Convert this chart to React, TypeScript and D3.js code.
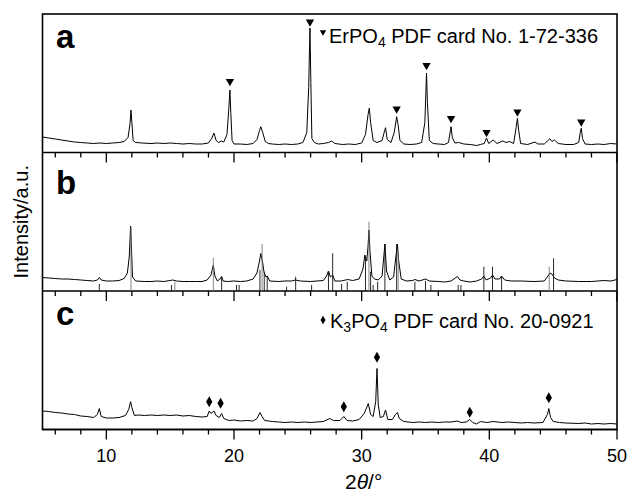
import React from "react";
import * as d3 from "d3";

// XRD patterns, [2theta, intensity] (a.u.)
const patternA: [number, number][] = [
  [5.0, 15.5], [5.5, 14.5], [6.0, 13.5], [6.5, 12.5], [7.0, 11.5], [7.5, 10.5], [8.0, 10], [8.5, 9.5],
  [9.0, 9], [9.5, 9.5], [10.0, 9], [10.5, 9.5], [11.0, 10], [11.4, 11], [11.7, 15], [11.85, 28],
  [11.93, 42.5], [12.0, 30], [12.1, 12], [12.3, 10], [12.8, 9.5], [13.5, 9], [14.0, 9.5], [14.5, 9],
  [15.0, 9.5], [15.5, 9], [16.0, 8.5], [16.5, 9], [17.0, 8.5], [17.5, 8.5], [18.0, 9.5], [18.25, 14],
  [18.43, 19.5], [18.6, 12], [18.8, 10], [19.0, 11.5], [19.2, 10.5], [19.45, 18], [19.6, 45], [19.68, 62.5],
  [19.75, 40], [19.85, 12], [20.0, 8.5], [20.5, 8.5], [21.0, 8], [21.5, 9], [21.8, 13], [22.0, 22],
  [22.1, 25.8], [22.25, 20], [22.45, 11], [22.7, 9], [23.0, 8.5], [23.5, 8], [24.0, 8.5], [24.5, 8],
  [25.0, 8.5], [25.4, 10], [25.7, 20], [25.85, 65], [25.95, 124.5], [26.02, 70], [26.1, 14], [26.3, 10],
  [26.6, 8.5], [27.0, 9], [27.4, 10], [27.65, 11.5], [27.9, 9], [28.5, 8], [29.0, 8.5], [29.5, 8],
  [30.0, 9.5], [30.3, 18], [30.5, 38], [30.6, 44.5], [30.7, 30], [30.9, 12], [31.2, 10], [31.6, 12],
  [31.8, 22], [31.87, 24.8], [32.0, 13], [32.3, 10], [32.55, 20], [32.74, 35.8], [32.85, 28], [33.0, 12],
  [33.3, 8.5], [33.8, 8], [34.3, 8.5], [34.7, 10], [34.95, 30], [35.08, 79.5], [35.15, 50], [35.3, 12],
  [35.6, 9], [36.0, 8.5], [36.5, 8], [36.8, 10], [36.95, 22], [37.0, 25.8], [37.1, 15], [37.3, 9.5],
  [37.6, 10], [38.0, 8.5], [38.5, 8], [39.0, 7], [39.3, 8], [39.6, 9], [39.78, 14.5], [39.95, 9],
  [40.3, 12.5], [40.6, 9], [41.06, 11.5], [41.3, 10], [41.6, 11], [41.9, 9], [42.1, 25], [42.2, 34.2],
  [42.3, 22], [42.45, 9], [43.0, 8], [43.57, 10.5], [43.8, 8.5], [44.3, 8.5], [44.74, 13.8], [44.9, 11],
  [45.1, 12.5], [45.4, 9], [46.0, 8], [46.6, 8], [47.0, 10], [47.12, 20], [47.2, 24.2], [47.3, 14],
  [47.5, 8.5], [48.0, 8], [48.5, 8.5], [49.0, 8], [49.5, 9], [50.0, 8.5],
];

const patternB: [number, number][] = [
  [5.0, 13.5], [5.5, 13], [6.0, 12.5], [6.5, 12], [7.0, 12], [7.5, 11.5], [8.0, 11], [8.5, 10.5],
  [9.0, 10], [9.3, 11], [9.45, 13.5], [9.6, 11], [10.0, 10], [10.5, 10], [11.0, 10.5], [11.4, 12.5],
  [11.65, 18], [11.8, 35], [11.9, 65], [11.95, 50], [12.05, 14], [12.3, 10], [13.0, 9.5], [13.5, 9.5],
  [14.0, 10], [14.5, 9.5], [15.0, 10.5], [15.2, 11], [15.5, 10], [16.0, 9.5], [16.5, 9.5], [17.0, 9.5],
  [17.5, 9.5], [17.9, 11], [18.2, 16], [18.38, 26], [18.5, 15], [18.7, 10], [18.9, 12], [19.03, 14.5],
  [19.15, 10], [19.5, 9.5], [20.0, 10], [20.5, 9.5], [21.0, 10], [21.5, 12], [21.8, 18], [22.0, 30],
  [22.1, 37.5], [22.25, 28], [22.35, 19], [22.5, 14], [22.6, 15], [22.8, 10], [23.5, 9.5], [24.0, 10],
  [24.5, 10], [24.8, 11], [25.2, 10], [26.0, 9.5], [26.5, 10], [27.0, 10.5], [27.25, 15], [27.4, 20],
  [27.55, 14], [27.73, 16], [27.9, 10], [28.4, 10], [28.9, 11.5], [29.3, 10.5], [29.8, 12], [30.1, 22],
  [30.25, 36], [30.4, 30], [30.5, 45], [30.57, 61], [30.65, 40], [30.8, 15], [31.0, 12], [31.3, 11],
  [31.6, 15], [31.82, 47], [31.95, 20], [32.2, 11], [32.5, 14], [32.74, 41], [32.8, 47], [32.9, 30],
  [33.1, 12], [33.5, 10], [34.0, 10.5], [34.17, 11.5], [34.5, 10], [35.0, 12], [35.3, 10], [36.0, 9.5],
  [36.5, 9], [37.0, 10], [37.5, 14.5], [37.7, 11], [38.0, 10], [38.5, 9], [39.0, 10], [39.4, 12],
  [39.57, 15], [39.75, 11], [40.1, 13], [40.25, 16], [40.45, 12], [40.8, 12], [40.96, 15], [41.2, 11],
  [41.7, 10], [42.5, 10], [43.5, 9.5], [44.3, 10], [44.6, 15], [44.74, 18], [44.9, 17], [45.1, 13],
  [45.4, 11], [46.0, 10], [47.0, 9.5], [48.0, 9.5], [48.5, 10], [49.0, 10.5], [49.5, 10], [50.0, 11.5],
];

const patternC: [number, number][] = [
  [5.0, 18.5], [5.5, 18], [6.0, 17], [6.5, 16.5], [7.0, 15.5], [7.5, 15], [8.0, 13.5], [8.5, 13],
  [9.0, 12], [9.3, 15], [9.45, 21], [9.6, 13], [10.0, 11.5], [10.5, 11.5], [11.0, 12], [11.5, 14],
  [11.75, 20], [11.9, 27.8], [12.0, 22], [12.2, 14], [12.5, 14.5], [13.0, 14], [13.5, 14.5], [14.0, 14],
  [14.5, 14.5], [15.0, 14], [15.5, 14.5], [16.0, 13.5], [16.5, 14], [17.0, 13], [17.5, 12.5], [17.9, 13],
  [18.06, 18.5], [18.2, 16], [18.43, 18.5], [18.6, 14], [18.85, 12], [19.03, 16], [19.2, 11], [19.6, 9],
  [20.0, 9.5], [20.5, 8.5], [21.0, 9], [21.5, 8.5], [21.8, 11], [22.03, 17], [22.2, 13], [22.4, 9],
  [23.0, 8], [23.5, 7.5], [24.0, 7], [24.5, 7.5], [25.0, 7], [25.5, 7.5], [26.0, 7], [26.5, 7.5],
  [27.0, 8], [27.5, 11], [27.8, 9], [28.3, 9], [28.6, 13], [28.85, 9], [29.3, 8.5], [29.8, 10],
  [30.2, 16], [30.52, 26], [30.7, 15], [30.9, 13], [31.1, 28], [31.2, 61], [31.3, 25], [31.45, 12],
  [31.7, 13], [31.87, 19.5], [32.05, 10], [32.4, 10], [32.65, 15], [32.8, 17], [32.95, 11], [33.3, 8],
  [34.0, 7], [34.5, 7.5], [35.0, 7], [35.5, 7.5], [36.0, 7], [36.5, 7.5], [37.0, 7.5], [37.5, 8.5],
  [37.8, 7], [38.2, 7.5], [38.47, 10], [38.7, 7], [39.0, 5.5], [39.3, 8], [39.8, 7], [40.3, 8],
  [41.0, 7], [41.5, 7.5], [42.0, 7], [42.5, 6.5], [43.0, 7], [43.5, 6.5], [44.2, 7], [44.55, 15],
  [44.66, 21], [44.8, 12], [45.0, 8], [45.5, 7], [46.0, 6.5], [47.0, 6], [47.5, 6.5], [48.0, 5.5],
  [48.5, 6], [49.0, 5.5], [49.5, 6], [50.0, 5.5],
];

// reference card sticks in panel b, [2theta, height]
const sticksDark: [number, number][] = [
  [9.45, 7], [15.1, 6], [19.03, 14.3], [20.2, 6], [20.4, 6], [22.03, 21], [22.37, 19.3], [22.6, 15],
  [24.12, 4.3], [24.83, 14.3], [26.08, 6], [27.4, 20], [27.73, 37.7], [28.43, 7], [28.87, 9.3],
  [30.3, 34.3], [30.7, 19.3], [30.9, 6], [31.25, 9.3], [31.82, 47], [32.74, 47], [34.17, 9.3],
  [35.0, 10], [35.42, 6], [37.56, 6], [37.77, 6], [39.57, 24.3], [40.25, 24.3], [40.96, 14.3], [45.03, 32.7],
];
const sticksLight: [number, number][] = [
  [11.93, 64], [15.37, 9.3], [18.38, 33], [22.2, 47], [30.57, 69.3], [32.86, 34.3], [44.69, 24.3],
];

// ErPO4 markers (panel a) and K3PO4 markers (panel c), [2theta, level]
const erpo4Marks: [number, number][] = [
  [19.68, 71], [25.95, 130.5], [32.74, 43.5], [35.08, 87], [37.0, 34], [39.78, 20], [42.2, 40.5], [47.2, 30.5],
];
const k3po4Marks: [number, number][] = [
  [18.06, 27.8], [18.95, 26.2], [28.6, 22.8], [31.2, 72.2], [38.47, 17.2], [44.66, 31.8],
];

const panelLetters = ["a", "b", "c"];
const xTicks = [10, 20, 30, 40, 50];
const xMinor = d3.range(6, 51, 2);

const FONT = "'Liberation Sans', Arial, Helvetica, sans-serif";
const W = 627;
const H = 495;
const M = { left: 42.5, right: 617, top: 14, bottom: 429.5 };

export default function App() {
  const x = d3.scaleLinear().domain([5, 50]).range([M.left, M.right]);
  const ph = (M.bottom - M.top) / 3;
  const panels = [patternA, patternB, patternC].map((data, i) => {
    const top = M.top + i * ph;
    const bottom = top + ph;
    const y = d3.scaleLinear().domain([0, ph]).range([bottom, top]);
    return { data, top, bottom, y };
  });
  const line = (y: d3.ScaleLinear<number, number>) =>
    d3.line<[number, number]>().x((d) => x(d[0])).y((d) => y(d[1]));

  const tri = d3.symbol(d3.symbolTriangle, 30)();
  const triSmall = d3.symbol(d3.symbolTriangle, 18)();
  const dia = d3.symbol(d3.symbolDiamond, 34)();
  const diaSmall = d3.symbol(d3.symbolDiamond, 22)();

  return (
    <svg width={W} height={H} style={{ position: "absolute", left: 0, top: 0, background: "#fff" }} fontFamily={FONT}>
      {panels.map((p, i) => (
        <g key={i}>
          <path d={line(p.y)(p.data) || ""} fill="none" stroke="#000" strokeWidth={1} strokeLinejoin="round" />
          <text x={56} y={p.top + (i === 1 ? 41.5 : 34)} fontSize={33} fontWeight="bold">
            {panelLetters[i]}
          </text>
          {/* ticks pointing down from each panel's bottom edge */}
          {xMinor.map((t) => (
            <line key={t} x1={x(t)} x2={x(t)} y1={p.bottom} y2={p.bottom + (t % 10 === 0 ? 10 : 5)} stroke="#000" strokeWidth={1.3} />
          ))}
          <line x1={M.left} x2={M.right} y1={p.bottom} y2={p.bottom} stroke="#000" strokeWidth={1.6} />
        </g>
      ))}

      {/* panel b reference sticks */}
      {sticksDark.map((d, i) => (
        <line key={"d" + i} x1={x(d[0])} x2={x(d[0])} y1={panels[1].y(0)} y2={panels[1].y(d[1])} stroke="#111" strokeWidth={0.9} />
      ))}
      {sticksLight.map((d, i) => (
        <line key={"l" + i} x1={x(d[0])} x2={x(d[0])} y1={panels[1].y(0)} y2={panels[1].y(d[1])} stroke="#777" strokeWidth={0.9} />
      ))}

      {erpo4Marks.map((d, i) => (
        <path key={"t" + i} d={tri || ""} transform={`translate(${x(d[0])},${panels[0].y(d[1])}) rotate(180)`} fill="#000" />
      ))}
      {k3po4Marks.map((d, i) => (
        <path key={"k" + i} d={dia || ""} transform={`translate(${x(d[0])},${panels[2].y(d[1])})`} fill="#000" />
      ))}

      {/* legends */}
      <path d={triSmall || ""} transform="translate(323,32) rotate(180)" fill="#000" />
      <text x={329} y={43} fontSize={20}>
        ErPO<tspan fontSize={14} dy={4}>4</tspan>
        <tspan dy={-4}> PDF card No. 1-72-336</tspan>
      </text>
      <path d={diaSmall || ""} transform="translate(323,320)" fill="#000" />
      <text x={330} y={328} fontSize={20}>
        K<tspan fontSize={14} dy={4}>3</tspan>
        <tspan dy={-4}>PO</tspan>
        <tspan fontSize={14} dy={4}>4</tspan>
        <tspan dy={-4}> PDF card No. 20-0921</tspan>
      </text>

      {/* frame */}
      <rect x={M.left} y={M.top} width={M.right - M.left} height={M.bottom - M.top} fill="none" stroke="#000" strokeWidth={1.6} />

      {xTicks.map((t) => (
        <text key={t} x={x(t)} y={462} fontSize={18} textAnchor="middle">
          {t}
        </text>
      ))}
      <text x={345} y={489} fontSize={21}>
        2<tspan fontStyle="italic">θ</tspan>/°
      </text>
      <text transform={`translate(28,${(M.top + M.bottom) / 2}) rotate(-90)`} fontSize={20} textAnchor="middle">
        Intensity/a.u.
      </text>
    </svg>
  );
}
